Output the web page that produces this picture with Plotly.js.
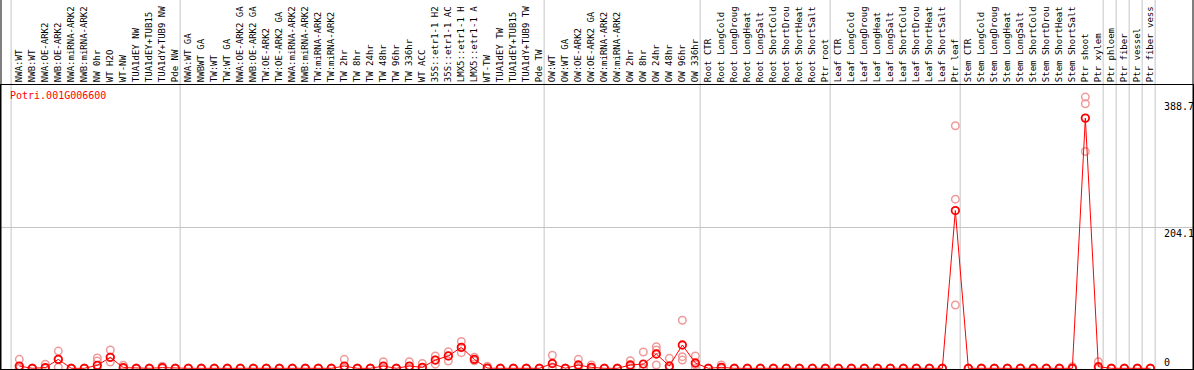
<!DOCTYPE html>
<html>
<head>
<meta charset="utf-8">
<script src="https://cdn.plot.ly/plotly-3.0.1.min.js"></script>
<style>
html,body{margin:0;padding:0;background:#fff;}
#chart{width:1194px;height:370px;}
</style>
</head>
<body>
<div id="chart"></div>
<script>
const geneName = "Potri.001G006600";

const sampleLabels = [
  "NWA:WT","NWB:WT","NWA:OE-ARK2","NWB:OE-ARK2","NWA:miRNA-ARK2","NWB:miRNA-ARK2",
  "NW 0hr","WT H2O","WT-NW","TUA1dEY NW","TUA1dEY+TUB15","TUA1dY+TUB9 NW","Pde NW",
  "NWA:WT GA","NWBWT GA","TW:WT","TW:WT GA","NWA:OE-ARK2 GA","NWB:OE-ARK2 GA",
  "TW:OE-ARK2","TW:OE-ARK2 GA","NWA:miRNA-ARK2","NWB:miRNA-ARK2","TW:miRNA-ARK2","TW:miRNA-ARK2",
  "TW 2hr","TW 8hr","TW 24hr","TW 48hr","TW 96hr","TW 336hr","WT ACC",
  "35S::etr1-1 H2","35S::etr1-1 AC","LMX5::etr1-1 H","LMX5::etr1-1 A",
  "WT-TW","TUA1dEY TW","TUA1dEY+TUB15","TUA1dY+TUB9 TW","Pde TW",
  "OW:WT","OW:WT GA","OW:OE-ARK2","OW:OE-ARK2 GA","OW:miRNA-ARK2","OW:miRNA-ARK2",
  "OW 2hr","OW 8hr","OW 24hr","OW 48hr","OW 96hr","OW 336hr",
  "Root CTR","Root LongCold","Root LongDroug","Root LongHeat","Root LongSalt",
  "Root ShortCold","Root ShortDrou","Root ShortHeat","Root ShortSalt","Ptr root",
  "Leaf CTR","Leaf LongCold","Leaf LongDroug","Leaf LongHeat","Leaf LongSalt",
  "Leaf ShortCold","Leaf ShortDrou","Leaf ShortHeat","Leaf ShortSalt","Ptr leaf",
  "Stem CTR","Stem LongCold","Stem LongDroug","Stem LongHeat","Stem LongSalt",
  "Stem ShortCold","Stem ShortDrou","Stem ShortHeat","Stem ShortSalt","Ptr shoot",
  "Ptr xylem","Ptr phloem","Ptr fiber","Ptr vessel","Ptr fiber vess"
];

// mean expression per sample
const meanValues = [
  3.3,0,1,13,0,0, 4.3,16,1,0,0,1,0,
  0,0,0,0,0,0, 0,0,0,0,0,0,
  3.3,0,0,3.3,0,3.3,1.4,
  12,18,30.5,13,
  0.3,0,0,0,0,
  7,0,4.8,1.4,0,0,
  4.8,6.2,20.8,3.3,33.9,7.7,
  0,1.4,0,0,0, 0,0,0,0,0,
  0,0,0,0,0, 0,0,0,0,229.3,
  0,0,0,0,0, 0,0,0,0,363.7,
  2.3,0,0,0,0
];
// replicate values per sample
const rep1Values = [
  13,0,6,25,0,0, 15,26.6,4.4,0,0,3,0,
  0,0,0,0,0,0, 0,0,0,0,0,0,
  13,0,0,9.6,0,9.6,7,
  18,24,39,16,
  3,0,0,0,0,
  19,0,13,4.8,0,0,
  11,23.7,31.4,14.5,69.8,17.9,
  0,4.8,0,0,0, 0,0,0,0,0,
  0,0,0,0,0, 0,0,0,0,352.5,
  0,0,0,0,0, 0,0,0,2.3,394.2,
  9.6,0,0,0,0
];
const rep2Values = [
  0,0,0,1.5,0,0, 10.6,9,0,0,0,0,0,
  0,0,0,0,0,0, 0,0,0,0,0,0,
  0,0,0,0,0,0,0,
  6,10.6,22.7,12,
  0,0,0,0,0,
  0,0,0,0,0,0,
  3,0,26.6,0,16.9,5,
  0,0,0,0,0, 0,0,0,0,0,
  0,0,0,0,0, 0,0,0,0,245.9,
  0,0,0,0,0, 0,0,0,0,384.5,
  0,0,0,0,0
];
const rep3Values = [
  0,0,0,13,0,0, 0,16,0,0,0,0,0,
  0,0,0,0,0,0, 0,0,0,0,0,0,
  0,0,0,0,0,0,0,
  12,18,30,11,
  0,0,0,0,0,
  2,0,1,0,0,0,
  0,0,4.8,0,12,0,
  0,0,0,0,0, 0,0,0,0,0,
  0,0,0,0,0, 0,0,0,0,92.1,
  0,0,0,0,0, 0,0,0,0,315.1,
  0,0,0,0,0
];
// sample index after which a group separator is drawn
const groupEnds = [-1,12,40,52,62,72,83,84,85,86,87];
const yTickValues = [0,204.1,388.7];
const yTickLabels = ["0","204.1","388.7"];

const idx = sampleLabels.map((_,i)=>i);
const mono = "DejaVu Sans Mono, monospace";
const pink = "#ef9a9a";
const red = "#ff0000";

const repX = [], repY = [];
[rep1Values, rep2Values, rep3Values].forEach(r => r.forEach((v,i)=>{ repX.push(i); repY.push(v); }));

const traces = [
  {x: repX, y: repY, type:'scatter', mode:'markers',
   marker:{symbol:'circle-open', size:7.5, color:pink, line:{color:pink, width:1.5}}},
  {x: idx, y: meanValues, type:'scatter', mode:'lines', hoverinfo:'skip',
   line:{color:red, width:1}},
  {x: idx, y: meanValues, type:'scatter', mode:'markers',
   marker:{symbol:'circle-open', size:7.5, color:red, line:{color:red, width:1.8}}}
];

const shapes = groupEnds.map(k => ({
  type:'line', xref:'x', yref:'paper', x0:k+0.37, x1:k+0.37, y0:0, y1:1.35,
  line:{color:'#c4c4c4', width:1}, layer:'below'
}));
shapes.push({type:'line', xref:'paper', yref:'paper', x0:0, x1:0, y0:0, y1:1.35, line:{color:'#000', width:1}});
shapes.push({type:'line', xref:'paper', yref:'paper', x0:1, x1:1, y0:0, y1:1.35, line:{color:'#000', width:1}});

const annotations = [
  {text: geneName, xref:'paper', yref:'paper', x:0, y:1, xanchor:'left', yanchor:'top',
   xshift:7, yshift:-3, showarrow:false, font:{family:mono, size:10, color:red}}
];
yTickValues.forEach((v,i)=>{
  annotations.push({text:yTickLabels[i], xref:'paper', yref:'y', x:1, y:v, xanchor:'left',
    yanchor: v===0 ? 'bottom' : 'top', xshift:-31, yshift: v===0 ? -2 : 2,
    showarrow:false, font:{family:mono, size:10, color:'#000'}});
});

const layout = {
  width:1194, height:370,
  margin:{l:1, r:1, t:85, b:1, pad:0},
  paper_bgcolor:'#fff', plot_bgcolor:'#fff',
  showlegend:false,
  xaxis:{
    side:'top', range:[-1.408, 90.28], tickmode:'array', tickvals:idx, ticktext:sampleLabels,
    tickangle:-90, tickfont:{family:mono, size:9, color:'#000'}, ticks:'',
    showgrid:false, zeroline:false, showline:true, mirror:true, linecolor:'#000', linewidth:1,
    automargin:false, fixedrange:true
  },
  yaxis:{
    range:[-1.0, 411.8], tickmode:'array', tickvals:[yTickValues[1]], showticklabels:false,
    showgrid:true, gridcolor:'#c4c4c4', gridwidth:1, zeroline:false,
    showline:true, mirror:true, linecolor:'#000', linewidth:1, ticks:'',
    automargin:false, fixedrange:true
  },
  shapes: shapes,
  annotations: annotations
};

Plotly.newPlot('chart', traces, layout, {displayModeBar:false, staticPlot:true});
</script>
</body>
</html>
